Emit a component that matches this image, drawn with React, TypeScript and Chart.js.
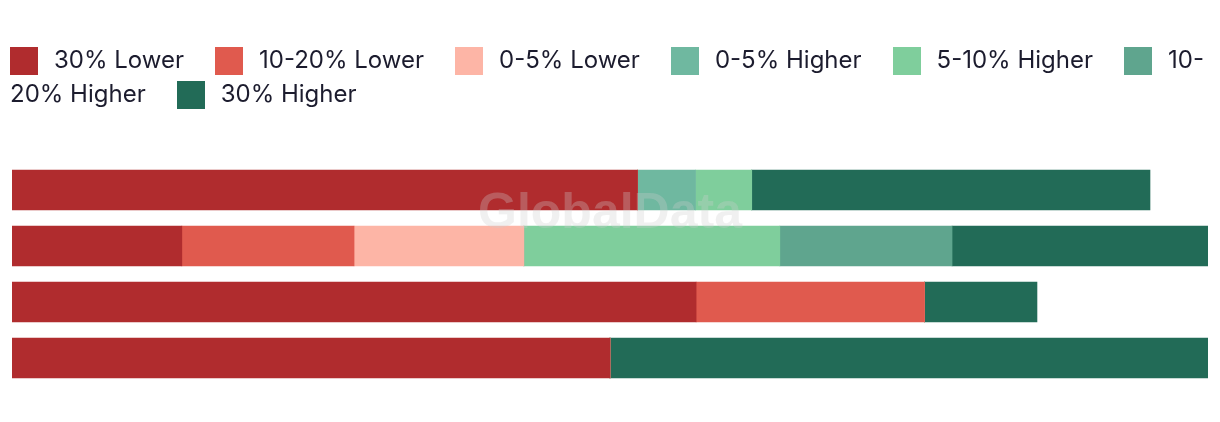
import React, { useEffect, useRef } from "react";
import { Chart, registerables } from "chart.js";

Chart.register(...registerables);

const categories = ["Row 1", "Row 2", "Row 3", "Row 4"];
const seriesNames = [
  "30% Lower",
  "10-20% Lower",
  "0-5% Lower",
  "0-5% Higher",
  "5-10% Higher",
  "10-20% Higher",
  "30% Higher",
];
const lower30 = [52.3, 14.2, 57.2, 50];
const lower10to20 = [0, 14.4, 19.1, 0];
const lower0to5 = [0, 14.2, 0, 0];
const higher0to5 = [4.85, 0, 0, 0];
const higher5to10 = [4.7, 21.4, 0, 0];
const higher10to20 = [0, 14.4, 0, 0];
const higher30 = [33.3, 21.4, 9.4, 50];
const seriesColors = ["#B02C2E", "#E05A4E", "#FDB5A6", "#6FB8A0", "#7FCE9C", "#5FA58E", "#226B57"];
const xMax = 100;

const seriesValues = [lower30, lower10to20, lower0to5, higher0to5, higher5to10, higher10to20, higher30];

const watermark = {
  id: "watermark",
  afterDatasetsDraw(chart: any) {
    const { ctx, chartArea } = chart;
    ctx.save();
    ctx.font = "bold 50px 'Liberation Sans', Arial, sans-serif";
    ctx.textAlign = "center";
    ctx.textBaseline = "alphabetic";
    ctx.fillStyle = "rgba(205,205,205,0.3)";
    ctx.fillText("GlobalData", (chartArea.left + chartArea.right) / 2, 228);
    ctx.restore();
  },
};

export default function App() {
  const ref = useRef<HTMLCanvasElement | null>(null);
  useEffect(() => {
    if (!ref.current) return;
    const chart = new Chart(ref.current, {
      type: "bar",
      data: {
        labels: categories,
        datasets: seriesNames.map((name, i) => ({
          label: name,
          data: seriesValues[i],
          backgroundColor: seriesColors[i],
          borderWidth: 0,
          barThickness: 40,
        })),
      },
      options: {
        indexAxis: "y",
        animation: false,
        responsive: false,
        maintainAspectRatio: false,
        layout: { padding: { left: 12, right: 12, top: 162, bottom: 36 } },
        plugins: { legend: { display: false }, tooltip: { enabled: false } },
        scales: {
          x: { stacked: true, min: 0, max: xMax, display: false },
          y: { stacked: true, display: false },
        },
      },
      plugins: [watermark],
    });
    return () => chart.destroy();
  }, []);

  return (
    <div style={{ position: "fixed", left: 0, top: 0, width: 1220, height: 422, background: "#fff" }}>
      <canvas ref={ref} width={1220} height={422} style={{ position: "absolute", left: 0, top: 0 }} />
      <div
        style={{
          position: "absolute",
          left: 10,
          top: 43,
          width: 1210,
          fontFamily: "Inter, 'Noto Sans', sans-serif",
          fontSize: 24,
          lineHeight: "34px",
          color: "#1C1C2E",
        }}
      >
        {seriesNames.map((name, i) => (
          <span key={name} style={{ marginRight: 31 }}>
            <span
              style={{
                display: "inline-block",
                width: 28,
                height: 28,
                background: seriesColors[i],
                verticalAlign: "middle",
                marginRight: 16,
              }}
            />
            {name}
          </span>
        ))}
      </div>
    </div>
  );
}
